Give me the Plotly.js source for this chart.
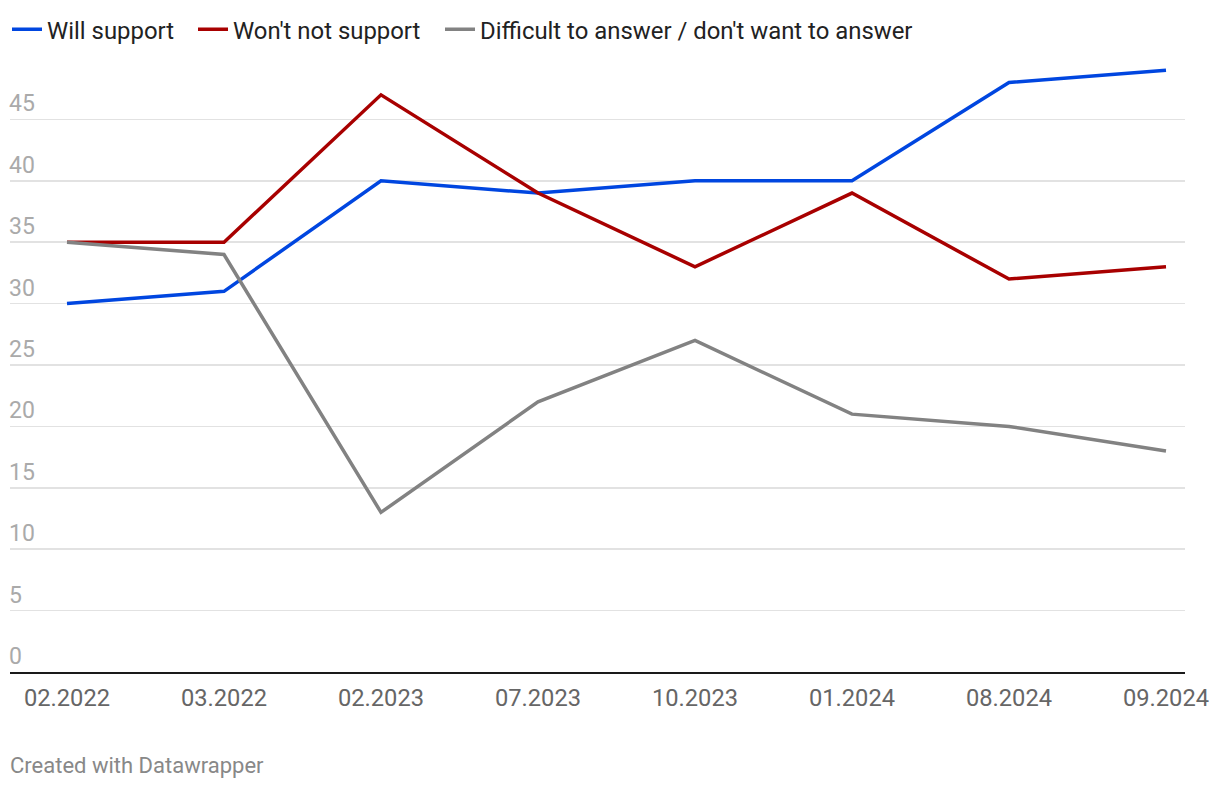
<!DOCTYPE html>
<html>
<head>
<meta charset="utf-8">
<script src="https://cdn.plot.ly/plotly-3.0.1.min.js"></script>
<style>html,body{margin:0;padding:0;background:#fff;}#chart{width:1220px;height:788px;}</style>
</head>
<body>
<div id="chart"></div>
<script>
const categories = ["02.2022","03.2022","02.2023","07.2023","10.2023","01.2024","08.2024","09.2024"];
const willSupport = [30, 31, 40, 39, 40, 40, 48, 49];
const wontSupport = [35, 35, 47, 39, 33, 39, 32, 33];
const difficult = [35, 34, 13, 22, 27, 21, 20, 18];
const seriesNames = ["Will support", "Won't not support", "Difficult to answer / don't want to answer"];
const yTicks = [0, 5, 10, 15, 20, 25, 30, 35, 40, 45];

const idx = categories.map((c, i) => i);
const mk = (y, name, color, lg) => ({
  x: idx, y: y, name: name, type: 'scatter', mode: 'lines', legend: lg,
  line: {color: color, width: 3.5}, hoverinfo: 'skip'
});
const data = [
  mk(willSupport, seriesNames[0], '#0046e0', 'legend'),
  mk(wontSupport, seriesNames[1], '#a80000', 'legend2'),
  mk(difficult, seriesNames[2], '#828282', 'legend3')
];
const legBase = (xpx) => ({
  orientation: 'h', x: (xpx - 10) / 1175, xanchor: 'left', y: 1.046, yanchor: 'middle',
  font: {size: 23.9, color: '#222'}, itemwidth: 30, bgcolor: 'rgba(0,0,0,0)'
});
const layout = {
  width: 1220, height: 788,
  margin: {l: 10, r: 35, t: 58, b: 116, autoexpand: false},
  paper_bgcolor: '#fff', plot_bgcolor: '#fff',
  font: {family: 'Roboto, sans-serif', size: 23.7, color: '#222'},
  showlegend: true,
  legend: legBase(7),
  legend2: legBase(193),
  legend3: legBase(440),
  xaxis: {
    range: [-0.363, 7.121], tickvals: idx, ticktext: categories,
    showgrid: false, zeroline: false, showline: true, linecolor: '#1a1a1a', linewidth: 2,
    ticks: '', ticklabelstandoff: 4, tickfont: {size: 23.7, color: '#666'}, fixedrange: true
  },
  yaxis: {
    range: [0, 50], tickvals: yTicks, ticktext: yTicks.map(String),
    showgrid: true, gridcolor: '#e2e2e2', gridwidth: 1.5, zeroline: false, showline: false,
    ticks: '', ticklabelposition: 'inside top', ticklabelstandoff: -4,
    tickfont: {size: 23, color: '#aaa'}, fixedrange: true
  },
  annotations: [{
    text: 'Created with Datawrapper', xref: 'paper', yref: 'paper',
    x: -2 / 1175, xanchor: 'left', y: (672 - 765) / 614, yanchor: 'middle',
    showarrow: false, font: {size: 22, color: '#888'}
  }]
};
Plotly.newPlot('chart', data, layout, {displayModeBar: false, staticPlot: true});
</script>
</body>
</html>
